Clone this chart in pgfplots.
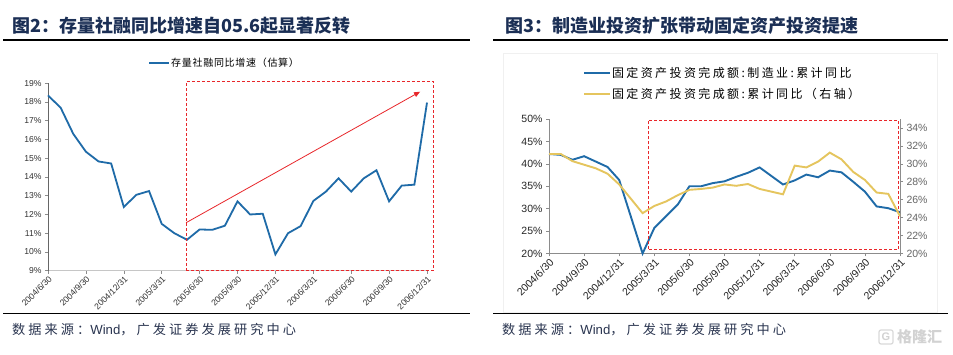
\documentclass[border=0pt]{standalone}
\usepackage{fontspec}
\setmainfont{Liberation Sans}
\newfontfamily\cjk{Noto Sans CJK SC}
\newfontfamily\cjkA[LetterSpace=7]{Noto Sans CJK SC}
\newfontfamily\cjkB[LetterSpace=20]{Noto Sans CJK SC}
\newfontfamily\cjkS[LetterSpace=23]{Noto Sans CJK SC}
\usepackage{pgfplots}
\pgfplotsset{compat=1.18}
\usetikzlibrary{arrows.meta}
\definecolor{fblue}{HTML}{1F6BA8}
\definecolor{fyel}{HTML}{E5C55E}
\definecolor{fred}{HTML}{E8262A}
\definecolor{navy}{HTML}{1B2F55}
\definecolor{axgray}{HTML}{8C8C8C}
\definecolor{srcc}{HTML}{2A3550}

\begin{document}
\begin{tikzpicture}
\path[use as bounding box, fill=white] (0pt,0pt) rectangle (953pt,355pt);
% frames / rules
\draw[gray!12, line width=0.6pt] (503pt,43pt) rectangle (937pt,302pt);
\draw[black, line width=1.2pt] (3pt,315pt) -- (470pt,315pt);
\draw[black, line width=1.2pt] (3pt,41.7pt) -- (470pt,41.7pt);
\draw[black, line width=1.2pt] (493pt,315pt) -- (948pt,315pt);
\draw[black, line width=1.2pt] (493pt,41.7pt) -- (948pt,41.7pt);
% titles
\node[anchor=west, text=navy, inner sep=0pt] at (12pt,329.5pt) {\cjk\fontsize{18}{20}\selectfont\bfseries 图2：存量社融同比增速自05.6起显著反转};
\node[anchor=west, text=navy, inner sep=0pt] at (505pt,329pt) {\cjk\fontsize{18}{20}\selectfont\bfseries 图3：制造业投资扩张带动固定资产投资提速};
% sources
\node[anchor=west, text=srcc, inner sep=0pt] at (12pt,25pt) {\fontsize{13.2}{15}\selectfont\cjkS 数据来源：\rmfamily Wind\cjkS ，广发证券发展研究中心};
\node[anchor=west, text=srcc, inner sep=0pt] at (502pt,25pt) {\fontsize{13.2}{15}\selectfont\cjkS 数据来源：\rmfamily Wind\cjkS ，广发证券发展研究中心};
% watermark
\draw[gray!30, line width=1.2pt, rounded corners=2pt] (879pt,11pt) rectangle (893pt,25pt);
\node[text=gray!35, inner sep=0pt] at (886pt,18pt) {\fontsize{11}{12}\selectfont\bfseries G};
\node[anchor=west, text=gray!35, inner sep=0pt] at (897pt,18pt) {\cjk\fontsize{15}{16}\selectfont\bfseries 格隆汇};

% ---------------- left panel ----------------
\begin{axis}[
  at={(48pt,84.3pt)}, anchor=south west, scale only axis,
  width=379pt, height=187.4pt,
  xmin=0, xmax=30, ymin=9, ymax=19, clip=false,
  axis x line*=bottom, axis y line*=left,
  x axis line style={gray!45, line width=1.6pt},
  y axis line style={gray!80!black, line width=0.6pt},
  tick align=outside, major tick length=3pt,
  tick style={axgray, line width=0.6pt},
  xtick={0,3,...,30},
  xticklabels={2004/6/30,2004/9/30,2004/12/31,2005/3/31,2005/6/30,2005/9/30,2005/12/31,2006/3/31,2006/6/30,2006/9/30,2006/12/31},
  xticklabel style={rotate=45, anchor=north east, font=\fontsize{8.6}{9}\selectfont, text=black!80, inner sep=1pt},
  ytick={9,10,...,19},
  yticklabel={\pgfmathprintnumber[assume math mode=true]{\tick}\%},
  yticklabel style={font=\fontsize{8.6}{9}\selectfont, text=black!80},
  legend style={draw=none, fill=none, at={(0.265,1.108)}, anchor=west, inner sep=0pt,
    font=\cjkA\fontsize{10}{12}\selectfont, nodes={inner sep=1pt}},
  legend cell align=left,
  legend image code/.code={\draw[#1, line width=1.6pt] (0pt,0pt) -- (20pt,0pt);},
]
\addplot[fblue, line width=1.8pt] coordinates {
(0,18.35) (1,17.7) (2,16.3) (3,15.35) (4,14.83) (5,14.72) (6,12.4) (7,13.05)
(8,13.25) (9,11.5) (10,11.0) (11,10.65) (12,11.2) (13,11.18) (14,11.4) (15,12.7)
(16,12.0) (17,12.04) (18,9.87) (19,11.0) (20,11.38) (21,12.72) (22,13.22) (23,13.93)
(24,13.22) (25,13.93) (26,14.36) (27,12.7) (28,13.54) (29,13.59) (30,17.97)};
\addlegendentry{存量社融同比增速（估算）}
\draw[fred, dashed, line width=1pt, dash pattern=on 3pt off 2pt] (axis cs:10.93,9) rectangle (axis cs:30.5,19.09);
\draw[fred, line width=0.8pt, -{Triangle[length=6pt,width=5pt]}] (axis cs:10.93,11.56) -- (axis cs:29.45,18.55);
\end{axis}

% ---------------- right panel ----------------
\begin{axis}[
  at={(549pt,101.5pt)}, anchor=south west, scale only axis,
  width=351pt, height=134.5pt,
  xmin=0, xmax=30, ymin=20, ymax=50, clip=false,
  axis x line*=bottom, axis y line*=left,
  axis line style={axgray, line width=0.6pt},
  tick align=outside, major tick length=3pt,
  tick style={axgray, line width=0.6pt},
  xtick={0,3,...,30},
  xticklabels={2004/6/30,2004/9/30,2004/12/31,2005/3/31,2005/6/30,2005/9/30,2005/12/31,2006/3/31,2006/6/30,2006/9/30,2006/12/31},
  xticklabel style={rotate=45, anchor=north east, font=\fontsize{10.5}{12}\selectfont, text=black!85, inner sep=1pt},
  ytick={20,25,...,50},
  yticklabel={\pgfmathprintnumber[assume math mode=true]{\tick}\%},
  yticklabel style={font=\fontsize{10.5}{12}\selectfont, text=black!85},
  legend style={draw=none, fill=none, at={(0.097,1.264)}, anchor=west, inner sep=0pt,
    font=\cjkB\fontsize{12}{14}\selectfont, nodes={inner sep=1pt}, row sep=7pt},
  legend cell align=left,
  legend image code/.code={\draw[#1, line width=1.8pt] (0pt,0pt) -- (26pt,0pt);},
]
\addplot[fblue, line width=1.9pt] coordinates {
(0,42.2) (1,42.0) (2,40.9) (3,41.7) (4,40.5) (5,39.3) (6,36.4) (8,20.0) (9,25.7)
(10,28.3) (11,30.9) (12,35.0) (13,35.0) (14,35.7) (15,36.1) (16,37.1) (17,38.0)
(18,39.2) (20,35.4) (21,36.3) (22,37.6) (23,37.0) (24,38.5) (25,38.1) (26,36.0)
(27,33.8) (28,30.5) (29,30.1) (30,29.2)};
\addlegendentry{固定资产投资完成额:制造业:累计同比}
\addlegendimage{fyel, line width=1.9pt}
\addlegendentry{固定资产投资完成额:累计同比（右轴）}
\draw[fred, dashed, line width=1pt, dash pattern=on 3pt off 2pt] (axis cs:8.5,20.9) rectangle (axis cs:29.86,49.7);
\end{axis}
\begin{axis}[
  at={(549pt,101.5pt)}, anchor=south west, scale only axis,
  width=351pt, height=134.5pt,
  xmin=0, xmax=30, ymin=20, ymax=35,
  hide x axis, axis y line*=right,
  axis line style={axgray, line width=0.6pt},
  tick align=outside, major tick length=3pt,
  tick style={axgray, line width=0.6pt},
  ytick={20,22,...,34},
  yticklabel={\pgfmathprintnumber[assume math mode=true]{\tick}\%},
  yticklabel style={font=\fontsize{10.5}{12}\selectfont, text=black!60},
]
\addplot[fyel, line width=1.9pt] coordinates {
(0,31.1) (1,31.1) (2,30.3) (3,29.9) (4,29.5) (5,28.9) (6,27.7) (8,24.5) (9,25.3)
(10,25.8) (11,26.5) (12,27.1) (13,27.2) (14,27.35) (15,27.7) (16,27.55) (17,27.75)
(18,27.2) (20,26.6) (21,29.8) (22,29.6) (23,30.25) (24,31.25) (25,30.5) (26,29.1)
(27,28.2) (28,26.8) (29,26.65) (30,24.15)};
\end{axis}
\end{tikzpicture}
\end{document}
